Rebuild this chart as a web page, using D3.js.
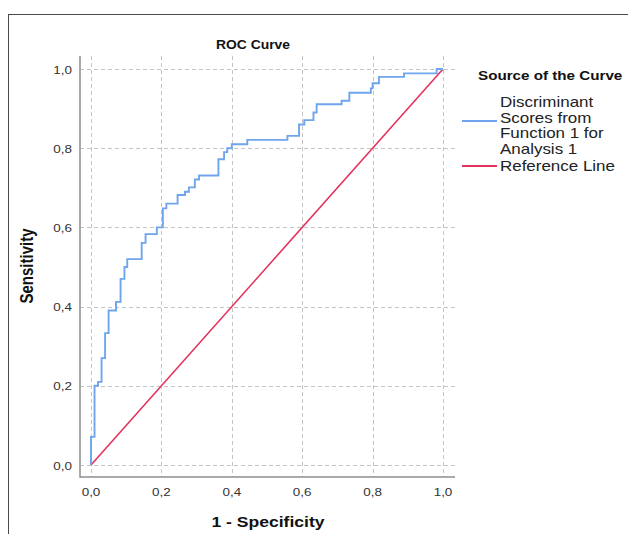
<!DOCTYPE html>
<html>
<head>
<meta charset="utf-8">
<script src="https://cdn.jsdelivr.net/npm/d3@7/dist/d3.min.js"></script>
<style>
  html, body { margin: 0; padding: 0; background: #fff; }
  svg { display: block; }
  text { font-family: "Liberation Sans", Arial, sans-serif; }
</style>
</head>
<body>
<svg id="chart" width="628" height="534"></svg>
<script>
// ---- data ----
const fprValues = [0, 0, 0.010, 0.020, 0.030, 0.040, 0.050, 0.071, 0.084, 0.095, 0.103,
  0.144, 0.155, 0.187, 0.204, 0.214, 0.246, 0.267, 0.278, 0.295, 0.307, 0.362, 0.378,
  0.387, 0.400, 0.444, 0.558, 0.591, 0.606, 0.632, 0.641, 0.712, 0.734, 0.795, 0.800,
  0.818, 0.889, 0.982, 1.0];
const tprValues = [0, 0.071, 0.200, 0.210, 0.270, 0.333, 0.390, 0.412, 0.470, 0.500, 0.520,
  0.561, 0.583, 0.600, 0.648, 0.660, 0.682, 0.690, 0.701, 0.721, 0.731, 0.772, 0.790,
  0.800, 0.810, 0.821, 0.831, 0.860, 0.871, 0.890, 0.911, 0.920, 0.940, 0.951, 0.964,
  0.980, 0.989, 1.0, 1.0];
const refX = [0, 1];
const refY = [0, 1];
const tickValues = [0, 0.2, 0.4, 0.6, 0.8, 1.0];
const tickLabels = ["0,0", "0,2", "0,4", "0,6", "0,8", "1,0"];
const chartTitle = "ROC Curve";
const xTitle = "1 - Specificity";
const yTitle = "Sensitivity";
const legendTitle = "Source of the Curve";
const legendCurveLines = ["Discriminant", "Scores from", "Function 1 for", "Analysis 1"];
const legendRefLabel = "Reference Line";

// ---- layout ----
const svg = d3.select("#chart");
const SX = 1.17; // horizontal text stretch seen in the reference
const plot = { left: 80, right: 455, top: 56, bottom: 477 };
const x = d3.scaleLinear().domain([0, 1]).range([91, 443]);
const y = d3.scaleLinear().domain([0, 1]).range([465, 69]);
const blue = "#6ea5ec";
const red = "#e3325d";

// outer frame
svg.append("rect").attr("x", 8.5).attr("y", 14.5).attr("width", 700).attr("height", 600)
  .attr("fill", "none").attr("stroke", "#4a4a4a").attr("stroke-width", 1);

function label(txt, px, py, opts = {}) {
  const sx = opts.sx !== undefined ? opts.sx : SX;
  const t = svg.append("text")
    .attr("transform", `translate(${px},${py}) scale(${sx},1)` + (opts.rotate ? ` rotate(${opts.rotate})` : ""))
    .attr("text-anchor", opts.anchor || "start")
    .attr("font-size", opts.size || 12)
    .attr("font-weight", opts.bold ? "bold" : "normal")
    .attr("fill", opts.fill || "#222")
    .text(txt);
  return t;
}

// grid
const grid = svg.append("g").attr("stroke", "#c4c4c4").attr("stroke-width", 1)
  .attr("stroke-dasharray", "4,3").attr("fill", "none");
tickValues.forEach(v => {
  grid.append("line").attr("x1", Math.round(x(v)) + 0.5).attr("x2", Math.round(x(v)) + 0.5)
    .attr("y1", plot.top).attr("y2", plot.bottom);
  grid.append("line").attr("y1", Math.round(y(v)) + 0.5).attr("y2", Math.round(y(v)) + 0.5)
    .attr("x1", plot.left).attr("x2", plot.right);
});

// axes lines
svg.append("line").attr("x1", plot.left).attr("x2", plot.left).attr("y1", plot.top).attr("y2", plot.bottom + 0.75)
  .attr("stroke", "#8e8e8e").attr("stroke-width", 1.5);
svg.append("line").attr("x1", plot.left).attr("x2", plot.right).attr("y1", plot.bottom).attr("y2", plot.bottom)
  .attr("stroke", "#8e8e8e").attr("stroke-width", 1.5);

// tick labels
tickValues.forEach((v, i) => {
  label(tickLabels[i], 72, y(v) + 4.5, { anchor: "end", size: 11.5, fill: "#333" });
  label(tickLabels[i], x(v), 496, { anchor: "middle", size: 11.5, fill: "#333" });
});

// reference line
const line = d3.line().x(d => x(d[0])).y(d => y(d[1]));
svg.append("path").datum(refX.map((v, i) => [v, refY[i]]))
  .attr("d", line).attr("fill", "none").attr("stroke", red).attr("stroke-width", 1.6);

// ROC curve
const stepLine = d3.line().x(d => x(d[0])).y(d => y(d[1])).curve(d3.curveStepAfter);
svg.append("path").datum(fprValues.map((v, i) => [v, tprValues[i]]))
  .attr("d", stepLine).attr("fill", "none").attr("stroke", blue).attr("stroke-width", 1.9);

// titles
label(chartTitle, 253, 49, { anchor: "middle", size: 13.5, bold: true, fill: "#111", sx: 1.03 });
label(xTitle, 268, 527, { anchor: "middle", size: 15, bold: true, fill: "#111" });
label(yTitle, 33, 266, { anchor: "middle", size: 15, bold: true, fill: "#111", rotate: -90 });

// legend
label(legendTitle, 478, 80, { size: 13, bold: true, fill: "#111" });
legendCurveLines.forEach((t, i) => {
  label(t, 500, 107 + i * 15.5, { size: 14.5, fill: "#222" });
});
svg.append("line").attr("x1", 462).attr("x2", 497).attr("y1", 121).attr("y2", 121)
  .attr("stroke", blue).attr("stroke-width", 1.8);
label(legendRefLabel, 500, 171, { size: 14.5, fill: "#222" });
svg.append("line").attr("x1", 462).attr("x2", 497).attr("y1", 166).attr("y2", 166)
  .attr("stroke", red).attr("stroke-width", 1.8);
</script>
</body>
</html>
